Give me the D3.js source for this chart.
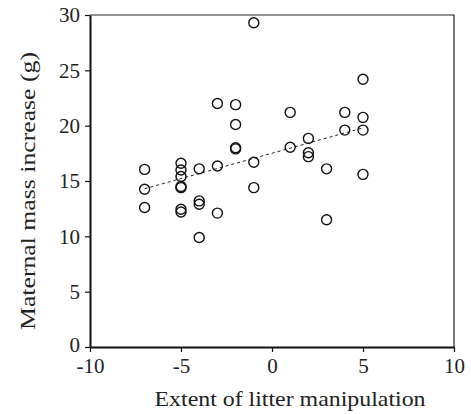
<!DOCTYPE html>
<html>
<head>
<meta charset="utf-8">
<script src="https://cdn.jsdelivr.net/npm/d3@7"></script>
<style>
  body { margin: 0; background: #fff; }
  svg { display: block; }
</style>
</head>
<body>
<div class="main"></div>
<script>
// litter manipulation (x) vs maternal mass increase (y)
var litterChange = [-1, -3, -2, -2, -2, -2, -1, -7, -5, -5, -5, -4, -3,
                    -5, -5, -7, -7, -5, -5, -4, -4, -3, -4, -1,
                    5, 1, 4, 5, 4, 5, 2, 1, 2, 2, 3, 5, 3];
var massGain = [29.3, 22.0, 21.9, 20.1, 18.0, 17.9, 16.7, 16.05, 16.6, 16.0, 15.4, 16.1, 16.35,
                14.5, 14.4, 14.25, 12.6, 12.45, 12.2, 13.2, 12.9, 12.1, 9.9, 14.4,
                24.2, 21.2, 21.2, 20.75, 19.6, 19.6, 18.85, 18.05, 17.55, 17.2, 16.1, 15.6, 11.5];
// dashed regression line end points
var fitX = [-7, 5];
var fitY = [14.3, 19.8];
var xTicks = [-10, -5, 0, 5, 10];
var yTicks = [0, 5, 10, 15, 20, 25, 30];

var width = 471, height = 414;
var margin = {top: 15, right: 17, bottom: 67, left: 90};
var serif = '"Liberation Serif", "Times New Roman", serif';

var svg = d3.select('.main')
    .append('svg')
    .attr('width', width)
    .attr('height', height)
    .style('font-family', serif);

var x = d3.scaleLinear().domain([-10, 10]).range([margin.left, width - margin.right]);
var y = d3.scaleLinear().domain([0, 30]).range([height - margin.bottom, margin.top]);

// top and right frame lines (thinner)
svg.append('path')
    .attr('d', 'M' + x(-10) + ',' + y(30) + 'H' + x(10) + 'V' + y(0))
    .attr('fill', 'none')
    .attr('stroke', '#222')
    .attr('stroke-width', 1.2);

// plain hyphen for negatives, like the original
var fmt = function(d) { return String(d); };

var xAxis = svg.append('g')
    .attr('transform', 'translate(0,' + y(0) + ')')
    .call(d3.axisBottom(x).tickValues(xTicks).tickFormat(fmt).tickSize(5).tickPadding(6).tickSizeOuter(0));

var yAxis = svg.append('g')
    .attr('transform', 'translate(' + x(-10) + ',0)')
    .call(d3.axisLeft(y).tickValues(yTicks).tickFormat(fmt).tickSize(5).tickPadding(5).tickSizeOuter(0));

[xAxis, yAxis].forEach(function(g) {
    g.select('.domain').attr('stroke', '#111').attr('stroke-width', 2);
    g.selectAll('.tick line').attr('stroke', '#111').attr('stroke-width', 1.2);
    g.selectAll('.tick text')
        .attr('fill', '#222')
        .style('font-family', serif)
        .style('font-size', '21px');
});
// lift the zero label a touch so it clears the -10 below it
yAxis.selectAll('.tick text').filter(function(d) { return d === 0; }).attr('dy', '0.2em');

// regression line
svg.append('line')
    .attr('x1', x(fitX[0])).attr('y1', y(fitY[0]))
    .attr('x2', x(fitX[1])).attr('y2', y(fitY[1]))
    .attr('stroke', '#222')
    .attr('stroke-width', 1)
    .attr('stroke-dasharray', '3,3');

svg.append('g')
    .selectAll('circle')
    .data(litterChange)
    .enter()
    .append('circle')
    .attr('cx', function(d) { return x(d); })
    .attr('cy', function(d, i) { return y(massGain[i]); })
    .attr('r', 5)
    .attr('fill', 'none')
    .attr('stroke', '#111')
    .attr('stroke-width', 1.4);

svg.append('text')
    .attr('x', 290)
    .attr('y', 406)
    .attr('text-anchor', 'middle')
    .attr('fill', '#222')
    .attr('textLength', 271)
    .attr('lengthAdjust', 'spacingAndGlyphs')
    .style('font-size', '22px')
    .text('Extent of litter manipulation');

svg.append('text')
    .attr('transform', 'translate(35,191) rotate(-90)')
    .attr('text-anchor', 'middle')
    .attr('fill', '#222')
    .attr('textLength', 278)
    .attr('lengthAdjust', 'spacingAndGlyphs')
    .style('font-size', '22px')
    .text('Maternal mass increase (g)');
</script>
</body>
</html>
